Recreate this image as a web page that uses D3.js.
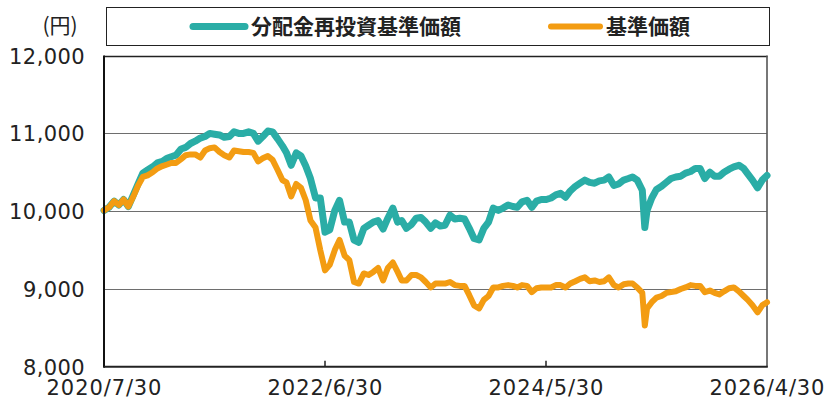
<!DOCTYPE html>
<html>
<head>
<meta charset="utf-8">
<script src="https://cdn.jsdelivr.net/npm/d3@7"></script>
<style>
  html, body { margin: 0; padding: 0; background: #fff; }
  svg { display: block; }
  text { font-family: "Noto Sans CJK JP", "Noto Sans", sans-serif; fill: #222; }
</style>
</head>
<body>
<svg id="chart" width="827" height="400"></svg>
<script>
const dates = [
"2020-07-30","2020-08-15","2020-08-31","2020-09-15","2020-09-30","2020-10-15","2020-10-31","2020-11-15","2020-11-30","2020-12-15","2020-12-31",
"2021-01-15","2021-01-31","2021-02-15","2021-02-28","2021-03-15","2021-03-31","2021-04-15","2021-04-30","2021-05-15","2021-05-31","2021-06-15","2021-06-30",
"2021-07-15","2021-07-31","2021-08-15","2021-08-31","2021-09-15","2021-09-30","2021-10-15","2021-10-31","2021-11-15","2021-11-30","2021-12-15","2021-12-31",
"2022-01-15","2022-01-31","2022-02-15","2022-02-28","2022-03-15","2022-03-31","2022-04-15","2022-04-30","2022-05-15","2022-05-31","2022-06-15","2022-06-30",
"2022-07-15","2022-07-31","2022-08-15","2022-08-31","2022-09-15","2022-09-30","2022-10-15","2022-10-31","2022-11-15","2022-11-30","2022-12-15","2022-12-31",
"2023-01-15","2023-01-31","2023-02-15","2023-02-28","2023-03-15","2023-03-31","2023-04-15","2023-04-30","2023-05-15","2023-05-31","2023-06-15","2023-06-30",
"2023-07-15","2023-07-31","2023-08-15","2023-08-31","2023-09-15","2023-09-30","2023-10-15","2023-10-31","2023-11-15","2023-11-30","2023-12-15","2023-12-31",
"2024-01-15","2024-01-31","2024-02-15","2024-02-29","2024-03-15","2024-03-31","2024-04-15","2024-04-30","2024-05-15","2024-05-31","2024-06-15","2024-06-30",
"2024-07-15","2024-07-31","2024-08-15","2024-08-31","2024-09-15","2024-09-30","2024-10-15","2024-10-31","2024-11-15","2024-11-30","2024-12-15","2024-12-31",
"2025-01-15","2025-01-31","2025-02-15","2025-02-28","2025-03-15","2025-03-31","2025-04-08","2025-04-15","2025-04-30","2025-05-15","2025-05-31","2025-06-15","2025-06-30",
"2025-07-15","2025-07-31","2025-08-15","2025-08-31","2025-09-15","2025-09-30","2025-10-15","2025-10-31","2025-11-15","2025-11-30","2025-12-15","2025-12-31",
"2026-01-15","2026-01-31","2026-02-15","2026-02-28","2026-03-15","2026-03-31","2026-04-15","2026-04-30"
];

// 分配金再投資基準価額
const reinvested = [
10010,10050,10130,10080,10150,10060,10210,10350,10490,10530,10570,
10620,10640,10680,10700,10720,10800,10820,10870,10900,10940,10960,11000,
10990,10980,10950,10960,11020,11000,11000,11020,11000,10900,10960,11030,
11020,10930,10840,10750,10590,10750,10710,10580,10420,10170,10170,9730,
9760,10010,10140,9860,9860,9630,9600,9780,9820,9860,9880,9770,
9910,10040,9860,9880,9780,9830,9910,9920,9860,9780,9850,9810,
9820,9950,9900,9910,9900,9780,9650,9630,9780,9860,10040,10010,
10040,10080,10060,10050,10120,10140,10050,10130,10150,10150,10170,10210,
10230,10180,10260,10320,10360,10400,10370,10360,10390,10400,10440,10330,
10350,10400,10420,10440,10400,10270,9790,10010,10170,10280,10320,10370,10420,
10440,10450,10490,10510,10550,10550,10420,10500,10450,10450,10500,10540,
10570,10590,10550,10480,10400,10300,10400,10460
];

// 基準価額
const nav = [
10010,10050,10130,10080,10150,10060,10190,10330,10440,10460,10500,
10550,10580,10600,10620,10620,10670,10720,10730,10730,10690,10780,10810,
10820,10760,10720,10690,10780,10770,10760,10760,10750,10640,10680,10710,
10660,10530,10400,10370,10190,10350,10300,10140,9880,9790,9500,9240,
9310,9500,9630,9430,9370,9090,9070,9200,9180,9220,9270,9110,
9270,9340,9220,9110,9110,9180,9180,9150,9090,9020,9070,9070,
9070,9090,9050,9040,9040,8920,8790,8750,8860,8910,9020,9020,
9040,9050,9040,9020,9050,9040,8960,9010,9020,9020,9020,9050,
9050,9020,9070,9100,9130,9150,9100,9110,9090,9100,9150,9050,
9020,9060,9070,9070,9020,8950,8530,8750,8830,8890,8910,8950,8960,
8970,9000,9020,9050,9040,9040,8960,8980,8950,8930,8970,9010,
9020,8970,8910,8860,8790,8700,8790,8830
];

const yTicks = [8000, 9000, 10000, 11000, 12000];
const xTickDates = ["2020-07-30", "2022-06-30", "2024-05-30", "2026-04-30"];
const xTickLabels = ["2020/7/30", "2022/6/30", "2024/5/30", "2026/4/30"];
const seriesNames = ["分配金再投資基準価額", "基準価額"];
const seriesColors = ["#2aada6", "#f39c12"];
const unitLabel = "(円)";

const parse = d3.timeParse("%Y-%m-%d");
const svg = d3.select("#chart");
const numFont = '"DejaVu Sans", sans-serif';

const pLeft = 104, pRight = 767, pTop = 55.6, pBottom = 366.8;
const x = d3.scaleTime()
  .domain([parse(xTickDates[0]), parse(xTickDates[xTickDates.length - 1])])
  .range([pLeft, pRight]);
const y = d3.scaleLinear().domain([8000, 12000]).range([pBottom, pTop]);

// gridlines
svg.append("g").selectAll("line")
  .data(yTicks.filter(v => v > 8000 && v < 12000))
  .join("line")
  .attr("x1", pLeft).attr("x2", pRight)
  .attr("y1", d => Math.round(y(d)) + 0.5).attr("y2", d => Math.round(y(d)) + 0.5)
  .attr("stroke", "#6e6e6e").attr("stroke-width", 1);

// plot frame top & right
svg.append("line").attr("x1", pLeft).attr("x2", pRight + 0.5)
  .attr("y1", Math.round(y(12000)) + 0.5).attr("y2", Math.round(y(12000)) + 0.5)
  .attr("stroke", "#222").attr("stroke-width", 1.3);
svg.append("line").attr("x1", pRight).attr("x2", pRight)
  .attr("y1", y(12000)).attr("y2", pBottom)
  .attr("stroke", "#555").attr("stroke-width", 1.6);

// y axis labels
const yAxis = d3.axisLeft(y).tickValues(yTicks).tickSize(0).tickPadding(0)
  .tickFormat(d3.format(","));
const gy = svg.append("g").attr("transform", `translate(85,0)`).call(yAxis);
gy.select(".domain").remove();
gy.selectAll("text").attr("font-size", 21).attr("fill", "#222")
  .style("font-family", numFont).attr("dy", "0.36em").attr("letter-spacing", "0.4px");

// x axis
const xAxis = d3.axisBottom(x)
  .tickValues(xTickDates.map(parse))
  .tickSize(0).tickPadding(0)
  .tickFormat((d, i) => xTickLabels[i]);
const gx = svg.append("g").attr("transform", `translate(0,${pBottom})`).call(xAxis);
gx.select(".domain").remove();
gx.selectAll("text").attr("font-size", 21).attr("fill", "#222")
  .style("font-family", numFont).attr("y", 28.6).attr("dy", 0).attr("letter-spacing", "0.9px");
// inner ticks
svg.append("g").selectAll("line")
  .data(xTickDates.slice(1, -1).map(parse))
  .join("line")
  .attr("x1", d => Math.round(x(d))).attr("x2", d => Math.round(x(d)))
  .attr("y1", pBottom - 6).attr("y2", pBottom)
  .attr("stroke", "#222").attr("stroke-width", 1.5);

// series lines
const lineGen = vals => d3.line()
  .x((d, i) => x(parse(dates[i])))
  .y(d => y(d))(vals);

svg.append("path").attr("d", lineGen(reinvested))
  .attr("fill", "none").attr("stroke", seriesColors[0]).attr("stroke-width", 7)
  .attr("stroke-linejoin", "round").attr("stroke-linecap", "round");
svg.append("path").attr("d", lineGen(nav))
  .attr("fill", "none").attr("stroke", seriesColors[1]).attr("stroke-width", 6)
  .attr("stroke-linejoin", "round").attr("stroke-linecap", "round");

// left & bottom axis lines
svg.append("line").attr("x1", pLeft).attr("x2", pLeft)
  .attr("y1", y(12000)).attr("y2", pBottom + 1)
  .attr("stroke", "#111").attr("stroke-width", 2);
svg.append("line").attr("x1", pLeft).attr("x2", pRight + 0.8)
  .attr("y1", pBottom).attr("y2", pBottom)
  .attr("stroke", "#222").attr("stroke-width", 2);

// unit label
svg.append("text").attr("x", 60).attr("y", 26).attr("dy", "0.35em")
  .attr("text-anchor", "middle").attr("font-size", 21).text(unitLabel);

// legend
svg.append("rect").attr("x", 106.5).attr("y", 7.5).attr("width", 663).attr("height", 38)
  .attr("fill", "#fff").attr("stroke", "#222").attr("stroke-width", 1);
const legendItems = [
  { x1: 193, x2: 245, tx: 251 },
  { x1: 551, x2: 600, tx: 606 }
];
legendItems.forEach((it, i) => {
  svg.append("line").attr("x1", it.x1).attr("x2", it.x2).attr("y1", 26.5).attr("y2", 26.5)
    .attr("stroke", seriesColors[i]).attr("stroke-width", i === 0 ? 7 : 6).attr("stroke-linecap", "round");
  svg.append("text").attr("x", it.tx).attr("y", 26.5).attr("dy", "0.36em")
    .attr("font-size", 21).attr("font-weight", 700).text(seriesNames[i]);
});
</script>
</body>
</html>
